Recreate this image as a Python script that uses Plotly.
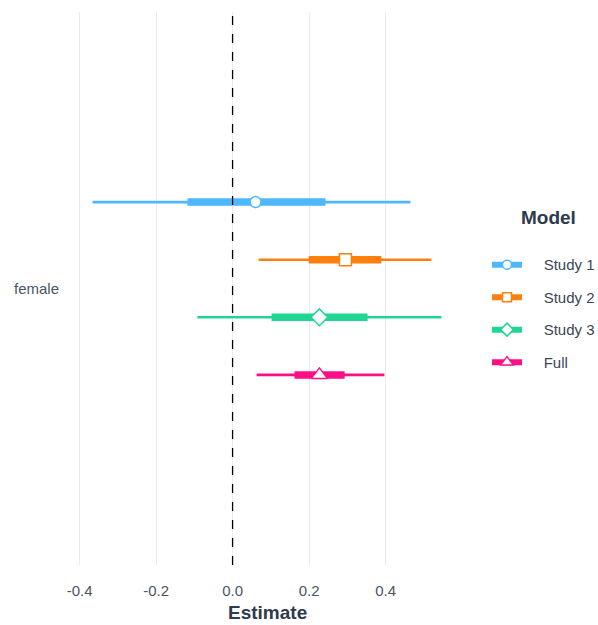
import plotly.graph_objects as go

# Coefficient estimates for the "female" term across models
models = ["Study 1", "Study 2", "Study 3", "Full"]
estimate = [0.060, 0.295, 0.227, 0.227]
ci_outer_lo = [-0.366, 0.068, -0.092, 0.063]
ci_outer_hi = [0.465, 0.520, 0.546, 0.397]
ci_inner_lo = [-0.118, 0.199, 0.102, 0.162]
ci_inner_hi = [0.243, 0.389, 0.353, 0.293]
term = "female"

colors = ["#4db8ff", "#ff7f0e", "#1fd693", "#ff0f85"]
symbols = ["circle", "square", "diamond", "triangle-up"]
marker_sizes = [11, 12, 13, 14]
legend_marker_sizes = [9, 9, 10, 11]

# vertical dodge of each model around the term's position
dodge = [0.1875, 0.0625, -0.0625, -0.1875]

# padding between legend key and label
gap = "\u00a0" * 4

fig = go.Figure()

for i, m in enumerate(models):
    y = dodge[i]
    fig.add_trace(go.Scatter(
        x=[ci_outer_lo[i], ci_outer_hi[i]], y=[y, y], mode="lines",
        line=dict(color=colors[i], width=2.6), showlegend=False, hoverinfo="skip"))
    fig.add_trace(go.Scatter(
        x=[ci_inner_lo[i], ci_inner_hi[i]], y=[y, y], mode="lines",
        line=dict(color=colors[i], width=7.5), showlegend=False, hoverinfo="skip"))
    fig.add_trace(go.Scatter(
        x=[estimate[i]], y=[y], mode="markers",
        marker=dict(symbol=symbols[i], size=marker_sizes[i], color="white",
                    line=dict(color=colors[i], width=1.5)),
        showlegend=False, name=m))
    # legend key: thick bar with the model's marker
    fig.add_trace(go.Scatter(
        x=[None], y=[None], mode="lines+markers", name=gap + m, legendgroup=m,
        line=dict(color=colors[i], width=6),
        marker=dict(symbol=symbols[i], size=legend_marker_sizes[i], color="white",
                    line=dict(color=colors[i], width=1.5))))

fig.add_vline(x=0, line=dict(color="black", width=1.3, dash="dash"))

# legend heading
fig.add_annotation(
    text="<b>Model</b>", xref="paper", yref="paper", x=1.232, y=0.628,
    xanchor="center", yanchor="middle", showarrow=False,
    font=dict(size=19, color="#2e3a4d"))

# x-axis title, placed close to the bottom edge
fig.add_annotation(
    text="<b>Estimate</b>", xref="paper", yref="paper", x=0.5, y=-0.0855,
    xanchor="center", yanchor="middle", showarrow=False,
    font=dict(size=19, color="#2e3a4d"))

fig.update_layout(
    width=598, height=625,
    margin=dict(l=75, r=139, t=12, b=60),
    plot_bgcolor="white", paper_bgcolor="white",
    font=dict(family="Liberation Sans, Arial, sans-serif", color="#3b4657", size=15),
    xaxis=dict(
        range=[-0.412, 0.592], tickvals=[-0.4, -0.2, 0.0, 0.2, 0.4],
        ticktext=["-0.4", "-0.2", "0.0", "0.2", "0.4"],
        showgrid=True, gridcolor="#ebebeb", gridwidth=1.2, zeroline=False,
        showline=False, ticks="", ticklabelstandoff=15, automargin=False,
        tickfont=dict(size=15, color="#4a5566")),
    yaxis=dict(
        range=[-0.6, 0.6], tickvals=[0], ticktext=[term],
        showgrid=False, zeroline=False, showline=False, ticks="", automargin=False,
        ticklabelstandoff=15, tickfont=dict(size=15, color="#4a5566")),
    legend=dict(
        xref="container", x=0.8144, xanchor="left", y=0.455, yanchor="middle",
        font=dict(size=15, color="#3b4657"), tracegroupgap=10,
        itemwidth=30),
)

fig.write_html("out.html")
